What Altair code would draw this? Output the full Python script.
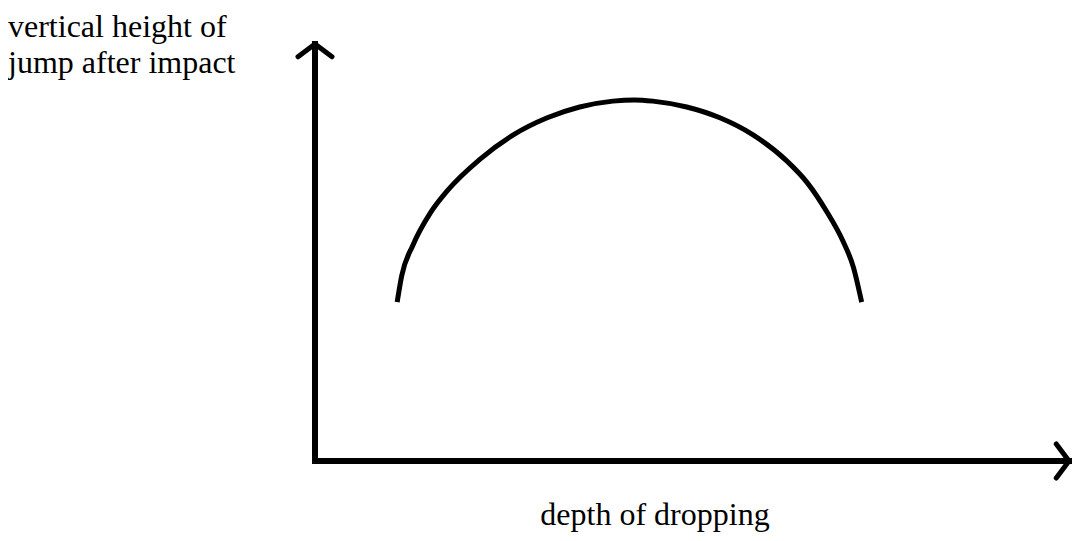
import altair as alt
import pandas as pd

# curve: depth of dropping (x) vs jump height (y), sketch units 0..10
curve_x = [1.09, 1.15, 1.30, 1.53, 1.75, 2.19, 2.63, 3.08, 3.51, 3.95, 4.24,
           4.48, 4.93, 5.37, 5.81, 6.26, 6.53, 6.79, 7.00, 7.14, 7.25]
curve_y = [3.81, 4.44, 5.18, 5.95, 6.47, 7.24, 7.82, 8.23, 8.49, 8.63, 8.66,
           8.63, 8.49, 8.23, 7.82, 7.19, 6.67, 5.97, 5.28, 4.65, 3.81]

# axis lines (start/end in sketch units) and arrow heads at their ends
axis_x = [0, 0]
axis_y = [0, 0]
axis_x2 = [0, 10]
axis_y2 = [10, 0]
arrow_x = [0, 10]
arrow_y = [10, 0]
arrow_angle = [0, 90]

y_title = "vertical height of\njump after impact"
x_title = "depth of dropping"

FONT = "Liberation Serif"

curve_df = pd.DataFrame({"x": curve_x, "y": curve_y})
axes_df = pd.DataFrame({"x": axis_x, "y": axis_y, "x2": axis_x2, "y2": axis_y2})
arrow_df = pd.DataFrame({"x": arrow_x, "y": arrow_y, "angle": arrow_angle})
ytitle_df = pd.DataFrame({"label": [y_title]})
xtitle_df = pd.DataFrame({"label": [x_title]})

xs = alt.Scale(domain=[0, 10], nice=False, zero=False)
ys = alt.Scale(domain=[0, 10], nice=False, zero=False)

curve = alt.Chart(curve_df).mark_line(
    color="black", strokeWidth=5, interpolate="monotone"
).encode(
    x=alt.X("x:Q", scale=xs, axis=None),
    y=alt.Y("y:Q", scale=ys, axis=None),
)

axes_lines = alt.Chart(axes_df).mark_rule(
    color="black", strokeWidth=6, strokeCap="square"
).encode(
    x=alt.X("x:Q", scale=xs, axis=None),
    y=alt.Y("y:Q", scale=ys, axis=None),
    x2="x2:Q",
    y2="y2:Q",
)

arrows = alt.Chart(arrow_df).mark_point(
    shape="M-1,0.75L0,0L1,0.75", filled=False, color="black",
    strokeWidth=5, size=1156, opacity=1, strokeJoin="round", strokeCap="round"
).encode(
    x=alt.X("x:Q", scale=xs, axis=None),
    y=alt.Y("y:Q", scale=ys, axis=None),
    angle=alt.Angle("angle:Q", scale=None),
)

ytitle = alt.Chart(ytitle_df).mark_text(
    font=FONT, fontSize=32, color="black", align="left", baseline="alphabetic",
    lineBreak="\n", lineHeight=36
).encode(
    x=alt.value(-307), y=alt.value(-7), text="label:N"
)

xtitle = alt.Chart(xtitle_df).mark_text(
    font=FONT, fontSize=32, color="black", align="center", baseline="alphabetic"
).encode(
    x=alt.value(340), y=alt.value(481), text="label:N"
)

chart = alt.layer(curve, axes_lines, arrows, ytitle, xtitle).properties(
    width=754, height=417,
    padding={"left": 307, "top": 36, "right": 3, "bottom": 72},
    autosize=alt.AutoSizeParams(type="none"),
).configure(
    background="white",
    view=alt.ViewConfig(stroke="transparent", strokeWidth=0),
)

chart.save("out.html", embed_options={"renderer": "svg", "actions": False})
